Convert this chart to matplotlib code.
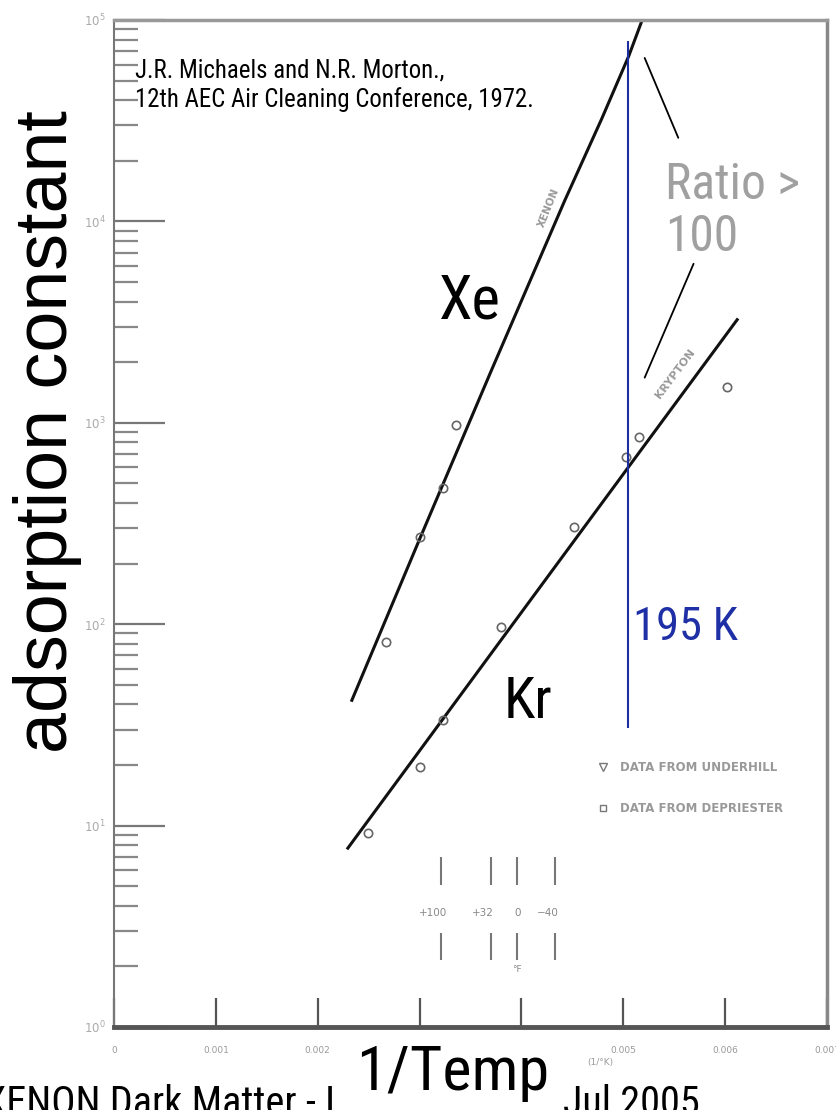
import matplotlib
matplotlib.use("Agg")
import matplotlib.pyplot as plt
import matplotlib.transforms as mtransforms
from matplotlib import font_manager
from matplotlib.font_manager import FontProperties
from matplotlib.lines import Line2D
from matplotlib.patches import Rectangle


def _narrow_font():
    """Arial-Narrow-like face if one is installed, else plain Liberation Sans."""
    prefs = ["Liberation Sans Narrow", "Arial Narrow", "Roboto Condensed",
             "Open Sans Condensed", "DejaVu Sans Condensed"]
    fonts = font_manager.fontManager.ttflist
    for want in prefs:
        for f in fonts:
            if f.name == want and f.style == "normal" and f.weight in (400, "normal", "regular"):
                return FontProperties(fname=f.fname)
    for f in fonts:
        if f.name.startswith("DejaVu Sans") and f.stretch == "condensed" \
                and f.style == "normal" and f.weight in (400, "normal"):
            return FontProperties(fname=f.fname)
    return FontProperties(family="Liberation Sans")


NARROW = _narrow_font()
SANS = "Liberation Sans"

# fitted curves (x = 1/T, y = adsorption constant)
xe_line_x = [0.002335, 0.002995, 0.003704, 0.004424, 0.004788, 0.005054, 0.005182]
xe_line_y = [41.9, 260.6, 1815, 12650, 32300, 66300, 98900]
kr_line_x = [0.002296, 0.003833, 0.005054, 0.006118]
kr_line_y = [7.73, 87.9, 606, 3250]

# measured points
xe_pts_x = [0.00267, 0.00300, 0.00323, 0.00336]
xe_pts_y = [81.6, 271, 475, 975]
kr_pts_x = [0.00249, 0.00300, 0.00323, 0.00380, 0.00452, 0.00503, 0.00515, 0.00602]
kr_pts_y = [9.19, 19.5, 33.5, 96.9, 304, 676, 850, 1506]

# 195 K marker line
x_195 = 0.00505
y_195 = [30.4, 78700]

# temperature scale marks (deg F) along the bottom
temp_x = [0.00321, 0.00370, 0.00396, 0.00433]
temp_label_x = [0.00313, 0.00362, 0.00396, 0.00426]
temp_labels = ["+100", "+32", "0", "\u221240"]

xticks = [0, 0.001, 0.002, 0.003, 0.004, 0.005, 0.006, 0.007]
# 0.003 / 0.004 sit under the "1/Temp" box in the slide
xtick_labels = ["0", "0.001", "0.002", "", "", "0.005", "0.006", "0.007"]

# "Ratio > 100" pointer lines: (start on curve, end near text)
ptr_xe = [(0.00521, 64800), (0.00554, 26000)]
ptr_kr = [(0.00521, 1676), (0.00569, 6160)]

fig = plt.figure(figsize=(8.36, 11.10), dpi=100)
ax = fig.add_axes([114 / 836, 83 / 1110, 713 / 836, 1007 / 1110])
ax.set_yscale("log")
ax.set_xlim(0, 0.007)
ax.set_ylim(1, 1e5)

ax.set_xticks(xticks)
ax.set_xticklabels(xtick_labels)
ax.tick_params(axis="x", which="major", direction="in", length=21, width=1.6,
               color="#555", labelsize=6.5, labelcolor="#999", pad=14)
ax.tick_params(axis="x", which="minor", length=0)
ax.tick_params(axis="y", which="major", direction="in", length=37, width=1.6,
               color="#777", labelsize=8.5, labelcolor="#aaa", pad=6)
ax.tick_params(axis="y", which="minor", direction="in", length=17, width=1.6,
               color="#888")
ax.tick_params(top=False, right=False)
ax.spines["bottom"].set(linewidth=3.5, color="#555")
ax.spines["left"].set(linewidth=1.5, color="#777")
ax.spines["top"].set(linewidth=2.5, color="#999")
ax.spines["right"].set(linewidth=2.5, color="#888")

ax.plot(xe_line_x, xe_line_y, color="#111", lw=2.2)
ax.plot(kr_line_x, kr_line_y, color="#111", lw=2.2)
ax.plot(xe_pts_x, xe_pts_y, "o", mfc="none", mec="#666", ms=6, mew=1.2)
ax.plot(kr_pts_x, kr_pts_y, "o", mfc="none", mec="#666", ms=6, mew=1.2)

ax.vlines(x_195, y_195[0], y_195[1], color="#1c2ea0", lw=1.5)

# big overlay labels; each gets fitted to the width it has on the slide
fitted = []
t = ax.text(0.00510, 83, "195 K", color="#1f2fa5", fontproperties=NARROW, fontsize=36)
fitted.append((t, 105))
t = ax.text(0.00319, 3290, "Xe", fontproperties=NARROW, fontsize=48)
fitted.append((t, 62))
t = ax.text(0.00383, 34.1, "Kr", fontproperties=NARROW, fontsize=48)
fitted.append((t, 49))
t = ax.text(0.00541, 20000, "Ratio >\n100", fontproperties=NARROW, fontsize=38,
            color="#a0a0a0", va="top", linespacing=1.1)
fitted.append((t, 135))
t = ax.text(0.0295, 0.962, "J.R. Michaels and N.R. Morton.,\n"
            "12th AEC Air Cleaning Conference, 1972.",
            transform=ax.transAxes, fontproperties=NARROW, fontsize=17, va="top",
            linespacing=1.25)
fitted.append((t, 400))

ax.text(0.00427, 11700, "XENON", rotation=68, fontsize=7.5, color="#999",
        fontweight="bold", ha="center", va="center")
ax.text(0.00551, 1754, "KRYPTON", rotation=53, fontsize=8, color="#999",
        fontweight="bold", ha="center", va="center")

for (p0, p1) in (ptr_xe, ptr_kr):
    ax.annotate("", xy=p0, xytext=p1,
                arrowprops=dict(arrowstyle="-", color="black", lw=1.3,
                                shrinkA=0, shrinkB=0))

# temperature scale
trans = mtransforms.blended_transform_factory(ax.transData, ax.transAxes)
ax.vlines(temp_x, 0.141, 0.169, transform=trans, color="#777", lw=1.5)
ax.vlines(temp_x, 0.0665, 0.0933, transform=trans, color="#777", lw=1.5)
for tx, tl in zip(temp_label_x, temp_labels):
    ax.text(tx, 0.113, tl, transform=trans, fontsize=7.5, color="#888",
            ha="center", va="center")
ax.text(temp_x[2], 0.057, "\u00b0F", transform=trans, fontsize=6.5,
        color="#888", ha="center", va="center")

# legend
handles = [Line2D([], [], ls="none", marker="v", mfc="none", mec="#777", ms=6),
           Line2D([], [], ls="none", marker="s", mfc="none", mec="#777", ms=5)]
ax.legend(handles, ["DATA FROM UNDERHILL", "DATA FROM DEPRIESTER"],
          loc="upper left", bbox_to_anchor=(0.662, 0.275), frameon=False,
          prop=dict(size=8.5, weight="bold"), labelcolor="#999",
          labelspacing=2.4, handlelength=1.0, handletextpad=1.0)

fig.text(600 / 836, 1 - 1063 / 1110, "(1/\u00b0K)", fontsize=6.5, color="#999",
         ha="center", va="center")

fig.text(48 / 836, 1 - 432 / 1110, "adsorption constant", rotation=90,
         fontsize=53, family=SANS, ha="center", va="center")

# slide footer, partly hidden behind the axis-title box
foot_r = fig.text(563 / 836, 1 - 1084 / 1110, "Jul 2005", fontproperties=NARROW,
                  fontsize=30, va="top", zorder=1)
fitted.append((foot_r, 137))

fig.patches.append(Rectangle((340 / 836, 0), 216 / 836, 76 / 1110,
                             transform=fig.transFigure, facecolor="white",
                             edgecolor="none", zorder=3))
t = fig.text(453 / 836, 1 - 1090 / 1110, "1/Temp", fontproperties=NARROW,
             fontsize=48, ha="center", va="baseline", zorder=4)
fitted.append((t, 193))

renderer = fig.canvas.get_renderer()
for txt, width_px in fitted:
    w = txt.get_window_extent(renderer).width
    txt.set_fontsize(txt.get_fontsize() * width_px / w)

fig.text(-16 / 836, 1 - 1084 / 1110, "XENON Dark Matter - LPC",
         fontproperties=NARROW, fontsize=foot_r.get_fontsize(), va="top", zorder=1)

fig.savefig("out.png", dpi=100, facecolor="white")
